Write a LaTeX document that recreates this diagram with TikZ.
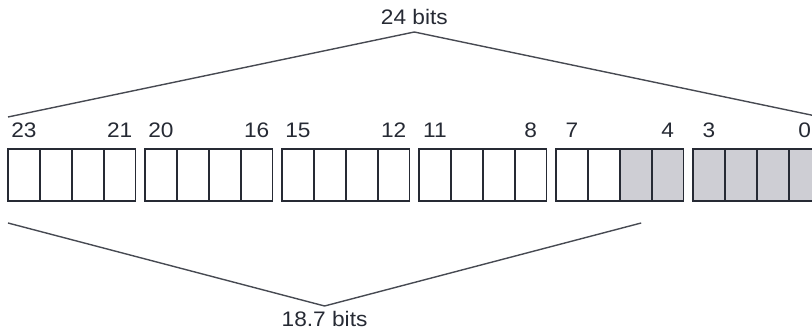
\documentclass[tikz,border=0pt]{standalone}
\usepackage{fontspec}
\setmainfont{Liberation Sans}
\newfontfamily\labfont{Liberation Sans}[FakeStretch=1.08]
\usetikzlibrary{calc}
\definecolor{ink}{RGB}{38,42,52}
\definecolor{shade}{RGB}{206,206,212}

\begin{document}
\begin{tikzpicture}[
	x=1pt, y=1pt,
	cell/.style={draw=ink, line width=1.6pt, minimum width=31.9pt, minimum height=52pt, inner sep=0pt, outer sep=0pt},
	used/.style={cell, fill=shade},
	bitno/.style={text=ink, font=\labfont\fontsize{21}{24}\selectfont, anchor=base, inner sep=0pt},
	brace/.style={draw=ink!85, line width=1.4pt},
	sizelbl/.style={text=ink, font=\labfont\fontsize{21}{24}\selectfont, anchor=base, inner sep=0pt}
	]
	\clip (0,0) rectangle (812,332);
	% 24 cells, counted from the left, in groups of four
	\foreach \i in {0,...,23} {
		\pgfmathtruncatemacro{\g}{\i/4}
		\pgfmathsetmacro{\cx}{8+137*\g+31.9*(\i-4*\g)+15.95}
		\ifnum\i>17
			\node[used] (c\i) at (\cx,157) {};
		\else
			\node[cell] (c\i) at (\cx,157) {};
		\fi
	}
	\foreach \t/\i in {23/0,21/3,20/4,16/7,15/8,12/11,11/12,8/15,7/16,4/19,3/20,0/23}
		\node[bitno] (n\i) at ([yshift=11pt]c\i.north) {\t};

	% 24 bits
	\coordinate (tl) at ([yshift=32pt]c0.north west);
	\coordinate (tr) at ([yshift=32pt]c23.north east);
	\coordinate (tp) at ($(tl)!0.5!(tr)+(0,85)$);
	\draw[brace] (tl) -- (tp) -- (tr);
	\node[sizelbl] (w24) at ([yshift=7pt]tp) {24 bits};

	% 18.7 bits
	\coordinate (bl) at ([yshift=-22pt]c0.south west);
	\coordinate (be) at ([yshift=-22pt]c23.south east);
	\coordinate (br) at ($(bl)!{18.7/24}!(be)$);
	\coordinate (bp) at ($(bl)!0.5!(br)+(0,-83)$);
	\draw[brace] (bl) -- (bp) -- (br);
	\node[sizelbl] (w187) at ([yshift=-21pt]bp) {18.7 bits};
\end{tikzpicture}
\end{document}
